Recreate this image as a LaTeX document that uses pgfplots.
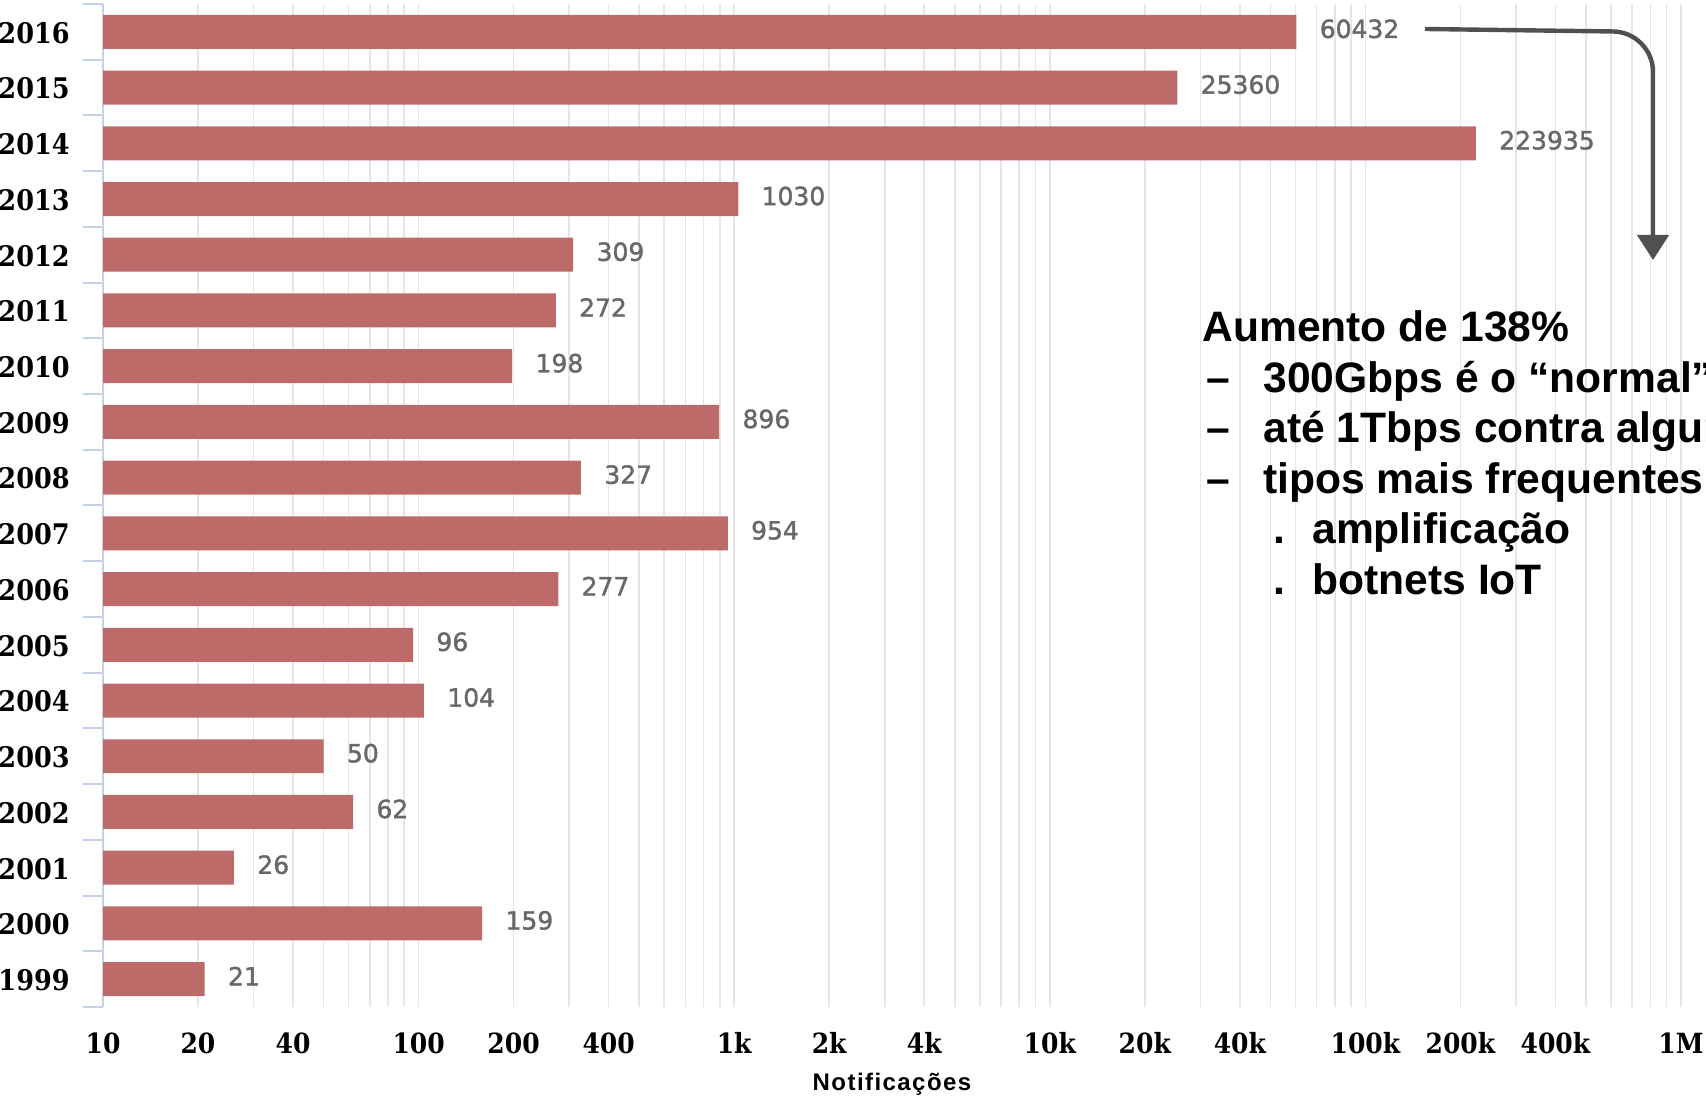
\documentclass[border=0pt]{standalone}
\usepackage{pgfplots}
\pgfplotsset{compat=1.18}
\usepackage{fontspec}
\usetikzlibrary{arrows.meta}
\setmainfont{Liberation Sans}
\newfontfamily\ylabfont{DejaVu Serif Condensed}
\newfontfamily\xlabfont{DejaVu Serif Condensed}
\newfontfamily\valfont[FakeBold=1.5]{DejaVu Sans}
\newfontfamily\annfont{Liberation Sans}
\newfontfamily\xtitlefont[LetterSpace=6]{Liberation Sans}
\definecolor{barred}{RGB}{189,107,104}
\definecolor{axblue}{RGB}{197,209,234}
\definecolor{gridgray}{RGB}{230,230,230}
\definecolor{valgray}{RGB}{104,104,104}
\definecolor{arrowgray}{RGB}{80,80,80}
\begin{document}
\begin{tikzpicture}
\path[use as bounding box] (-51.5bp,-44.5bp) rectangle (801.5bp,503.5bp);
\clip (-51.5bp,-44.5bp) rectangle (801.5bp,503.5bp);
\begin{axis}[
  at={(0,0)}, anchor=south west,
  scale only axis,
  width=789bp, height=501.5bp,
  xmode=log,
  xmin=10, xmax=1000000,
  ymin=-0.5, ymax=17.5,
  xbar, bar width=0.61,
  separate axis lines,
  axis x line*=bottom,
  axis y line*=left,
  x axis line style={draw=none},
  y axis line style={draw=axblue, line width=1bp},
  xtick={10,20,40,100,200,400,1000,2000,4000,10000,20000,40000,100000,200000,400000,1000000},
  xticklabels={10,20,40,100,200,400,1k,2k,4k,10k,20k,40k,100k,200k,400k,1M},
  minor xtick={20,30,40,50,60,70,80,90,100,200,300,400,500,600,700,800,900,1000,2000,3000,4000,5000,6000,7000,8000,9000,10000,20000,30000,40000,50000,60000,70000,80000,90000,100000,200000,300000,400000,500000,600000,700000,800000,900000,1000000},
  ytick={0,...,17},
  yticklabels={1999,2000,2001,2002,2003,2004,2005,2006,2007,2008,2009,2010,2011,2012,2013,2014,2015,2016},
  minor ytick={-0.5,0.5,...,17.5},
  major tick length=0pt,
  minor tick length=10bp,
  tick align=outside,
  minor x tick style={draw=none},
  minor y tick style={draw=axblue, line width=1bp},
  xmajorgrids, xminorgrids,
  major x grid style={draw=gridgray, line width=0.8bp},
  minor x grid style={draw=gridgray, line width=0.8bp},
  yticklabel style={font=\ylabfont\bfseries\fontsize{14.2bp}{16bp}\selectfont, inner sep=0pt, anchor=east, xshift=-16.5bp, yshift=-0.5bp},
  xticklabel style={font=\xlabfont\bfseries\fontsize{13.9bp}{16bp}\selectfont, inner sep=0pt, anchor=north, yshift=-12.5bp},
  xlabel={Notificações},
  every axis x label/.style={at={(axis description cs:0.5,0)}, anchor=center, yshift=-38.5bp, font=\xtitlefont\bfseries\fontsize{12bp}{14bp}\selectfont},
  point meta=explicit symbolic,
  nodes near coords={\pgfplotspointmeta},
  every node near coord/.append style={font=\valfont\fontsize{12.5bp}{14bp}\selectfont, text=valgray, anchor=west, xshift=10.5bp, yshift=1.5bp, inner sep=1bp},
]
\addplot[fill=barred, draw=none] coordinates {
  (21,0) [21]
  (159,1) [159]
  (26,2) [26]
  (62,3) [62]
  (50,4) [50]
  (104,5) [104]
  (96,6) [96]
  (277,7) [277]
  (954,8) [954]
  (327,9) [327]
  (896,10) [896]
  (198,11) [198]
  (272,12) [272]
  (309,13) [309]
  (1030,14) [1030]
  (223935,15) [223935]
  (25360,16) [25360]
  (60432,17) [60432]
};
\end{axis}
\draw[arrowgray, line width=2.2bp, rounded corners=20bp, -{Triangle[width=15.5bp,length=12.5bp]}] (661bp,489bp) -- (775bp,487.5bp) -- (775bp,373.5bp);
\begin{scope}[every node/.style={inner sep=0pt, anchor=base west, font=\annfont\bfseries\fontsize{21.3bp}{25bp}\selectfont}]
\node at (549.5bp,332.5bp) {Aumento de 138\%};
\node at (551.5bp,307.25bp) {–};
\node at (580bp,307.25bp) {300Gbps é o “normal”};
\node at (551.5bp,282bp) {–};
\node at (580bp,282bp) {até 1Tbps contra alguns};
\node at (551.5bp,256.75bp) {–};
\node at (580bp,256.75bp) {tipos mais frequentes};
\node at (585bp,231.5bp) {.};
\node at (604.5bp,231.5bp) {amplificação};
\node at (585bp,206.25bp) {.};
\node at (604.5bp,206.25bp) {botnets IoT};
\end{scope}
\end{tikzpicture}
\end{document}
